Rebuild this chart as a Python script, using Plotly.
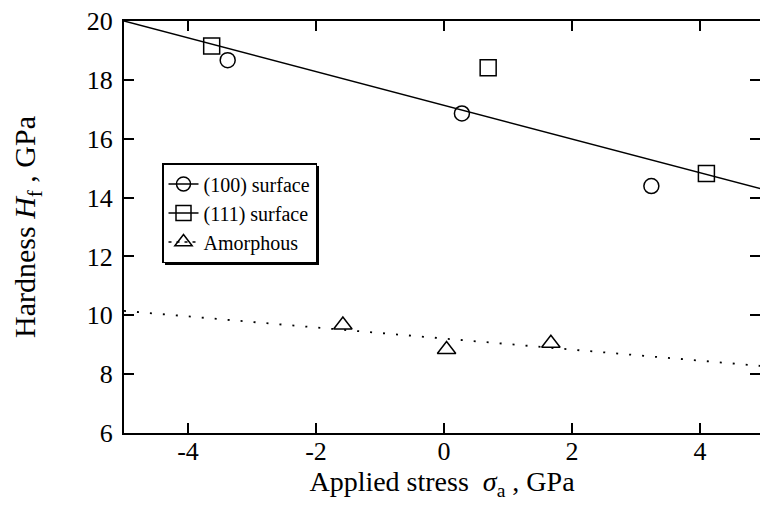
import plotly.graph_objects as go

# Data
s100_x = [-3.38, 0.28, 3.24]
s100_y = [18.67, 16.86, 14.39]
s111_x = [-3.63, 0.69, 4.10]
s111_y = [19.15, 18.41, 14.82]
amor_x = [-1.58, 0.04, 1.67]
amor_y = [9.67, 8.84, 9.05]
fit_cryst_x = [-5, 5]
fit_cryst_y = [20.0, 14.27]
fit_amor_x = [-5, 5]
fit_amor_y = [10.15, 8.27]
x_ticks = [-4, -2, 0, 2, 4]
x_ticklabels = ["-4", "-2", "0", "2", "4"]
y_ticks = [6, 8, 10, 12, 14, 16, 18, 20]
y_ticklabels = ["6", "8", "10", "12", "14", "16", "18", "20"]

FONT = "Liberation Serif"
BLACK = "black"

fig = go.Figure()

# fitted lines
fig.add_trace(go.Scatter(x=fit_cryst_x, y=fit_cryst_y, mode="lines",
                         line=dict(color=BLACK, width=1.5), showlegend=False, hoverinfo="skip"))
fig.add_trace(go.Scatter(x=fit_amor_x, y=fit_amor_y, mode="lines",
                         line=dict(color=BLACK, width=1.8, dash="2px,11px"), showlegend=False, hoverinfo="skip"))

# data markers
fig.add_trace(go.Scatter(x=s100_x, y=s100_y, mode="markers", showlegend=False,
                         marker=dict(symbol="circle-open", size=15, color=BLACK, line=dict(width=1.5, color=BLACK))))
fig.add_trace(go.Scatter(x=s111_x, y=s111_y, mode="markers", showlegend=False,
                         marker=dict(symbol="square-open", size=16, color=BLACK, line=dict(width=1.5, color=BLACK))))
fig.add_trace(go.Scatter(x=amor_x, y=amor_y, mode="markers", showlegend=False,
                         marker=dict(symbol="triangle-up-open", size=16, color=BLACK, line=dict(width=1.5, color=BLACK))))

# legend entries
fig.add_trace(go.Scatter(x=[None], y=[None], mode="lines+markers", name="(100) surface",
                         line=dict(color=BLACK, width=1.5),
                         marker=dict(symbol="circle-open", size=14, color=BLACK, line=dict(width=1.5, color=BLACK))))
fig.add_trace(go.Scatter(x=[None], y=[None], mode="lines+markers", name="(111) surface",
                         line=dict(color=BLACK, width=1.5),
                         marker=dict(symbol="square-open", size=15, color=BLACK, line=dict(width=1.5, color=BLACK))))
fig.add_trace(go.Scatter(x=[None], y=[None], mode="lines+markers", name="Amorphous",
                         line=dict(color=BLACK, width=1.5, dash="3px,5px"),
                         marker=dict(symbol="triangle-up-open", size=15, color=BLACK, line=dict(width=1.5, color=BLACK))))

# right-side ticks without a visible right line
fig.add_trace(go.Scatter(x=[None], y=[None], yaxis="y2", showlegend=False, hoverinfo="skip"))

W, H = 760, 505
L, R, T, B = 124, 0, 21, 72
plot_w = W - L - R
plot_h = H - T - B

# legend box in pixels (as rendered)
lg_left, lg_top, lg_right, lg_bottom = 162, 163, 316, 262

def px_x(p):
    return (p - L) / plot_w

def px_y(p):
    return (H - B - p) / plot_h

fig.update_layout(
    width=W, height=H,
    margin=dict(l=L, r=R, t=T, b=B),
    paper_bgcolor="white", plot_bgcolor="white",
    font=dict(family=FONT, color=BLACK, size=26),
    xaxis=dict(range=[-5, -5 + plot_w / 64.0], tickvals=x_ticks, ticktext=x_ticklabels,
               ticks="inside", ticklen=10, tickwidth=1.5,
               tickcolor=BLACK, showline=True, linewidth=2, linecolor=BLACK, mirror="ticks",
               showgrid=False, zeroline=False, tickfont=dict(size=26, family=FONT), ticklabelstandoff=-6,
               title=dict(text="Applied stress  <i>σ</i><sub>a</sub> , GPa", font=dict(size=28, family=FONT), standoff=0)),
    yaxis=dict(range=[6, 20], tickvals=y_ticks, ticktext=y_ticklabels,
               ticks="inside", ticklen=10, tickwidth=1.5,
               tickcolor=BLACK, showline=True, linewidth=2, linecolor=BLACK, mirror=False,
               showgrid=False, zeroline=False, tickfont=dict(size=26, family=FONT), ticklabelstandoff=4,
               title=dict(text="Hardness <i>H</i><sub>f</sub> , GPa", font=dict(size=30, family=FONT), standoff=42)),
    yaxis2=dict(range=[6, 20], tickvals=y_ticks, overlaying="y", side="right", ticks="inside", ticklen=10,
                tickwidth=1.5, tickcolor=BLACK, showticklabels=False, showline=False, showgrid=False, zeroline=False),
    legend=dict(x=px_x(lg_left), y=px_y(lg_top), xanchor="left", yanchor="top",
                bgcolor="white", bordercolor=BLACK, borderwidth=1.5,
                font=dict(size=20, family=FONT), tracegroupgap=0),
    showlegend=True,
)

# legend drop shadow (bottom/right thick edge)
fig.add_shape(type="rect", xref="paper", yref="paper",
              x0=px_x(lg_left + 3), x1=px_x(lg_right + 3), y0=px_y(lg_bottom + 3), y1=px_y(lg_top + 3),
              fillcolor=BLACK, line=dict(width=0), layer="above")

fig.write_html("out.html")
